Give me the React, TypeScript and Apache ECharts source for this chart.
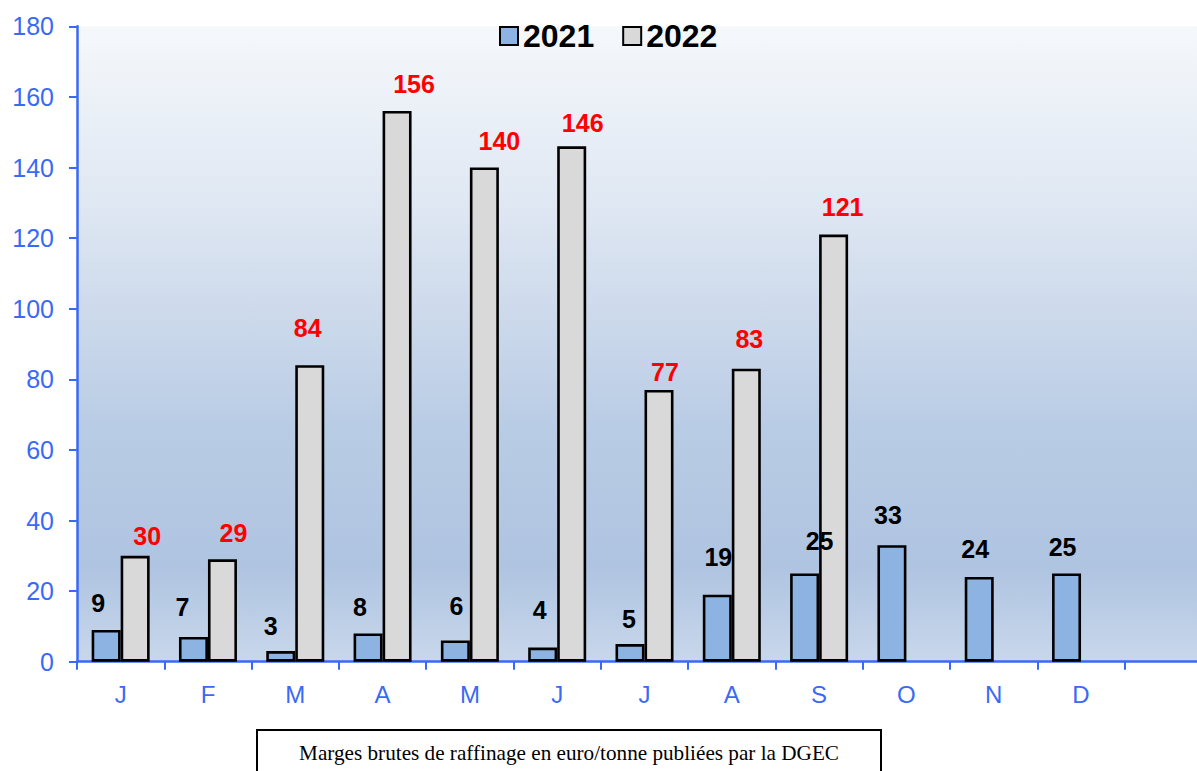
import React, { useEffect, useRef } from "react";
import * as echarts from "echarts";

const months = ["J", "F", "M", "A", "M", "J", "J", "A", "S", "O", "N", "D", ""];
const values2021 = [9, 7, 3, 8, 6, 4, 5, 19, 25, 33, 24, 25];
const values2022 = [30, 29, 84, 156, 140, 146, 77, 83, 121];
const yTicks = { min: 0, max: 180, interval: 20 };

// label offsets (style only) for data labels, [dx, dy]
const offsets2021 = [
  [-8, -14], [-11, -17], [-10, -13], [-8, -14], [1, -22], [-3, -25],
  [-1, -13], [1, -25], [15, -20], [-4, -18], [-4, -15], [-4, -14],
];
const offsets2022 = [
  [12, -7], [11, -14], [-2, -25], [17, -15], [15, -14], [11, -11],
  [6, -5], [3, -17], [9, -15],
];

const BLUE = "#3a6af5";

export default function App() {
  const ref = useRef<HTMLDivElement>(null);
  useEffect(() => {
    if (!ref.current) return;
    const chart = echarts.init(ref.current, undefined, { renderer: "svg" });
    const d2021 = values2021.map((v, i) => ({
      value: v,
      label: { offset: offsets2021[i] },
    }));
    const d2022 = months.slice(0, 12).map((_, i) =>
      i < values2022.length
        ? { value: values2022[i], label: { offset: offsets2022[i] } }
        : { value: "-" }
    );
    chart.setOption({
      animation: false,
      backgroundColor: "#ffffff",
      textStyle: { fontFamily: "Liberation Sans, Arial, sans-serif" },
      legend: {
        left: 499,
        top: 20,
        padding: 0,
        icon: "rect",
        itemWidth: 18,
        itemHeight: 18,
        itemGap: 28,
        textStyle: { fontSize: 32, fontWeight: "bold", color: "#000" },
        data: ["2021", "2022"],
      },
      grid: {
        left: 77,
        top: 26.3,
        width: 1135,
        height: 635.4,
        outerBoundsMode: "none",
        containLabel: false,
        show: true,
        borderWidth: 0,
        backgroundColor: new echarts.graphic.LinearGradient(0, 0, 0, 1, [
          { offset: 0, color: "#f5f8fb" },
          { offset: 0.27, color: "#e0e8f3" },
          { offset: 0.46, color: "#ccd9eb" },
          { offset: 0.63, color: "#b9cce5" },
          { offset: 0.85, color: "#afc4e1" },
          { offset: 1, color: "#c8d7eb" },
        ]),
      },
      xAxis: {
        type: "category",
        data: months,
        axisLine: { lineStyle: { color: BLUE, width: 2.5 } },
        axisTick: { show: true, length: 8, lineStyle: { color: BLUE, width: 2 } },
        axisLabel: { color: BLUE, fontSize: 24, margin: 21, interval: 0 },
      },
      yAxis: {
        type: "value",
        min: yTicks.min,
        max: yTicks.max,
        interval: yTicks.interval,
        axisLine: { show: true, lineStyle: { color: BLUE, width: 2.5 } },
        axisTick: { show: true, length: 8, lineStyle: { color: BLUE, width: 2 } },
        splitLine: { show: false },
        axisLabel: { color: BLUE, fontSize: 25, margin: 23 },
      },
      series: [
        {
          name: "2021",
          type: "bar",
          barWidth: 29,
          barGap: "0%",
          data: d2021,
          itemStyle: { color: "#8db3e2", borderColor: "#000", borderWidth: 2.6 },
          label: {
            show: true,
            position: "top",
            distance: 0,
            color: "#000",
            fontSize: 25,
            fontWeight: "bold",
          },
        },
        {
          name: "2022",
          type: "bar",
          barWidth: 29,
          barGap: "0%",
          data: d2022,
          itemStyle: { color: "#d9d9d9", borderColor: "#000", borderWidth: 2.6 },
          label: {
            show: true,
            position: "top",
            distance: 0,
            color: "#ff0000",
            fontSize: 25,
            fontWeight: "bold",
          },
        },
      ],
      graphic: [
        {
          type: "rect",
          shape: { x: 257, y: 730, width: 624, height: 60 },
          style: { fill: "#ffffff", stroke: "#000", lineWidth: 2 },
        },
        {
          type: "text",
          x: 569,
          y: 753,
          style: {
            text: "Marges brutes de raffinage en euro/tonne publiées par la DGEC",
            fill: "#000",
            font: "21.2px 'Liberation Serif', 'Times New Roman', serif",
            textAlign: "center",
            textVerticalAlign: "middle",
          },
        },
      ],
    });
    return () => chart.dispose();
  }, []);
  return (
    <div
      ref={ref}
      style={{ position: "fixed", left: 0, top: 0, width: 1197, height: 771 }}
    />
  );
}
